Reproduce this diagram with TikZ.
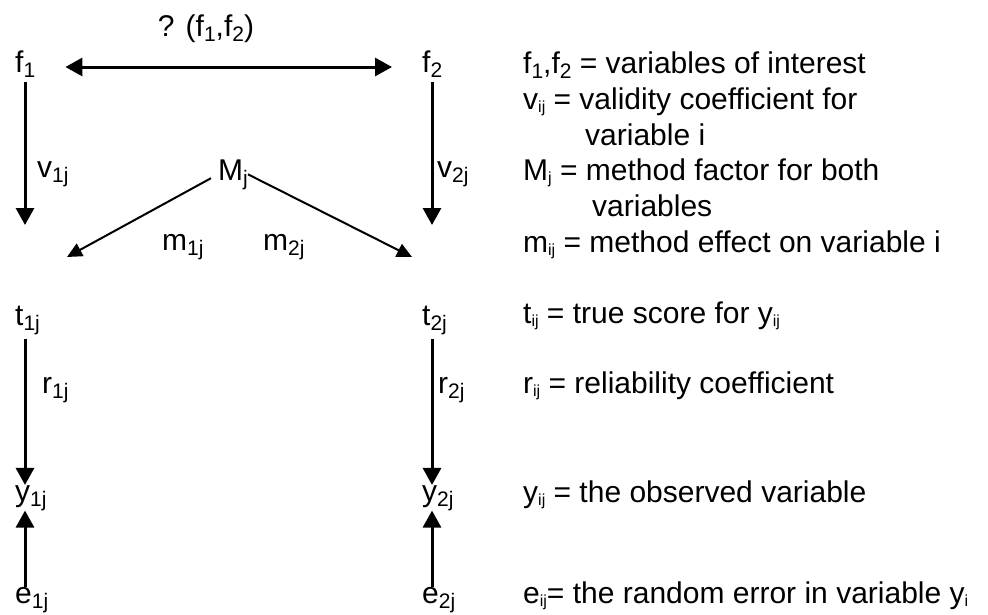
\documentclass[tikz,border=0pt]{standalone}
\usepackage{fontspec}
\setmainfont{Liberation Sans}
\usetikzlibrary{arrows.meta}
\newcommand{\sbs}[1]{\raisebox{-5pt}{\fontsize{21}{21}\selectfont #1}}
\newcommand{\sbt}[1]{\raisebox{-3pt}{\fontsize{16}{16}\selectfont #1}}
\tikzset{
  >={Triangle[length=17pt,width=18pt]},
  flow/.style={->,line width=3pt},
  slant/.style={-{Triangle[length=15pt,width=14pt]},line width=2pt},
  lbl/.style={inner sep=0pt,anchor=base west,font=\fontsize{30}{36}\selectfont},
  defn/.style={lbl}
}
\begin{document}
\begin{tikzpicture}[x=1pt,y=-1pt]
  \useasboundingbox (0,0) rectangle (988,614);
  % Variables
  \node[lbl,anchor=base] (cov) at (206,36) {? (f\sbs{1},f\sbs{2})};
  \node[lbl] (f1) at (15,72) {f\sbs{1}};
  \node[lbl] (f2) at (422,72) {f\sbs{2}};
  \node[lbl] (Mj) at (218,180) {M\sbs{j}};
  \node[lbl] (t1j) at (15,325) {t\sbs{1j}};
  \node[lbl] (t2j) at (422,325) {t\sbs{2j}};
  \node[lbl] (y1j) at (15,501) {y\sbs{1j}};
  \node[lbl] (y2j) at (422,501) {y\sbs{2j}};
  \node[lbl] (e1j) at (15,603) {e\sbs{1j}};
  \node[lbl] (e2j) at (422,603) {e\sbs{2j}};
  \coordinate (v1end) at (25,225);
  \coordinate (v2end) at (432,225);
  \coordinate (m1end) at (67,257);
  \coordinate (m2end) at (412,257);

  % Coefficients
  \node[lbl] (v1j) at (37,177) {v\sbs{1j}};
  \node[lbl] (v2j) at (437,177) {v\sbs{2j}};
  \node[lbl] (m1j) at (162,250) {m\sbs{1j}};
  \node[lbl] (m2j) at (263,250) {m\sbs{2j}};
  \node[lbl] (r1j) at (42,393) {r\sbs{1j}};
  \node[lbl] (r2j) at (438,393) {r\sbs{2j}};

  % Paths
  \draw[flow,<->,shorten <=30pt,shorten >=30pt] ([yshift=5pt]f1.base east) -- ([yshift=5pt]f2.base west);
  \draw[flow,shorten <=5pt] (f1.south -| v1end) -- (v1end);
  \draw[flow,shorten <=5pt] (f2.south -| v2end) -- (v2end);
  \draw[slant,shorten <=8pt] (Mj.west) -- (m1end);
  \draw[slant] (Mj.east) -- (m2end);
  \draw[flow,shorten <=4pt] (t1j.south -| v1end) -- (y1j.north -| v1end);
  \draw[flow,shorten <=4pt] (t2j.south -| v2end) -- (y2j.north -| v2end);
  \draw[flow] (e1j.north -| v1end) -- (y1j.south -| v1end);
  \draw[flow] (e2j.north -| v2end) -- (y2j.south -| v2end);

  % Legend
  \node[defn] (d1) at (523,73) {f\sbs{1},f\sbs{2} = variables of interest};
  \node[defn] (d2) at (523,109) {v\sbt{ij} = validity coefficient for};
  \node[defn] (d3) at (585,145) {variable i};
  \node[defn] (d4) at (523,180) {M\sbt{j} = method factor for both};
  \node[defn] (d5) at (592,216) {variables};
  \node[defn] (d6) at (523,252) {m\sbt{ij} = method effect on variable i};
  \node[defn] (d7) at (523,323) {t\sbt{ij} = true score for y\sbt{ij}};
  \node[defn] (d8) at (523,393) {r\sbt{ij} = reliability coefficient};
  \node[defn] (d9) at (523,502) {y\sbt{ij} = the observed variable};
  \node[defn] (d10) at (523,603) {e\sbt{ij}= the random error in variable y\sbt{i}};
\end{tikzpicture}
\end{document}
